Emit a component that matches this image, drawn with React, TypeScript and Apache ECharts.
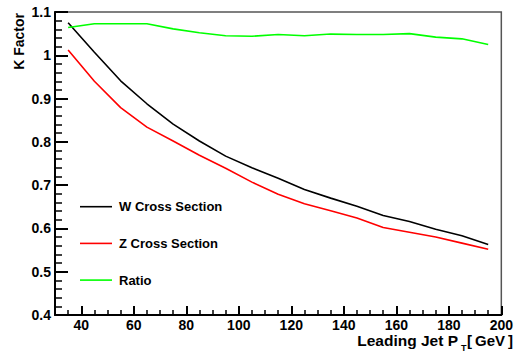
import React, { useEffect, useRef } from "react";
import * as echarts from "echarts";

const ptValues = [35, 45, 55, 65, 75, 85, 95, 105, 115, 125, 135, 145, 155, 165, 175, 185, 195];
const wCross = [1.075, 1.007, 0.941, 0.888, 0.841, 0.802, 0.767, 0.740, 0.716, 0.690, 0.670, 0.651, 0.630, 0.616, 0.598, 0.583, 0.563];
const zCross = [1.012, 0.940, 0.879, 0.834, 0.802, 0.769, 0.739, 0.707, 0.679, 0.657, 0.641, 0.624, 0.602, 0.591, 0.580, 0.566, 0.552];
const ratio = [1.064, 1.073, 1.073, 1.073, 1.061, 1.052, 1.045, 1.044, 1.048, 1.045, 1.049, 1.048, 1.048, 1.050, 1.042, 1.038, 1.025];
const xMajorTicks = [40, 60, 80, 100, 120, 140, 160, 180, 200];
const seriesNames = ["W Cross Section", "Z Cross Section", "Ratio"];
const seriesColors = ["#000000", "#ff0000", "#00ff00"];

const FONT = "Liberation Sans";

export default function App() {
  const ref = useRef<HTMLDivElement>(null);
  useEffect(() => {
    if (!ref.current) return;
    const chart = echarts.init(ref.current, null, { renderer: "svg" });
    const datasets = [wCross, zCross, ratio];
    const txt = (text: string, x: number, y: number, size: number, align: string, lh: number) => ({
      type: "text",
      x,
      y,
      style: {
        text,
        fontFamily: FONT,
        fontWeight: "bold",
        fontSize: size,
        lineHeight: lh,
        fill: "#000",
        align,
        verticalAlign: "middle",
      },
    });
    chart.setOption({
      animation: false,
      backgroundColor: "#ffffff",
      grid: {
        left: 55,
        right: 13,
        top: 12,
        bottom: 37,
        show: true,
        borderColor: "#555555",
        borderWidth: 1.5,
        backgroundColor: "transparent",
      },
      legend: {
        orient: "vertical",
        left: 80,
        top: 199.7,
        padding: 0,
        icon: "rect",
        itemWidth: 32,
        itemHeight: 1.6,
        itemGap: 22.7,
        data: seriesNames,
        textStyle: { fontFamily: FONT, fontWeight: "bold", fontSize: 13, lineHeight: 14, color: "#000", padding: [0, 0, 0, 2] },
      },
      xAxis: [
        {
          type: "value",
          min: 30,
          max: 200,
          axisLine: { show: true, onZero: false, lineStyle: { color: "#000", width: 2 } },
          axisTick: { show: true, inside: true, length: 9, customValues: xMajorTicks, lineStyle: { color: "#000", width: 2 } },
          axisLabel: {
            customValues: xMajorTicks,
            fontFamily: FONT,
            fontWeight: "bold",
            fontSize: 14,
            lineHeight: 11,
            color: "#000",
            margin: 4.5,
            showMaxLabel: true,
            showMinLabel: true,
          },
          splitLine: { show: false },
        },
        {
          type: "value",
          min: 30,
          max: 200,
          interval: 5,
          position: "bottom",
          axisLine: { show: false },
          axisTick: { show: true, inside: true, length: 5, lineStyle: { color: "#000", width: 1.5 } },
          axisLabel: { show: false },
          splitLine: { show: false },
        },
      ],
      yAxis: {
        type: "value",
        min: 0.4,
        max: 1.1,
        interval: 0.1,
        axisLine: { show: true, onZero: false, lineStyle: { color: "#000", width: 2 } },
        axisTick: { show: true, inside: true, length: 13, lineStyle: { color: "#000", width: 2 } },
        minorTick: { show: true, splitNumber: 5, length: 7, lineStyle: { color: "#000", width: 1.5 } },
        axisLabel: {
          fontFamily: FONT,
          fontWeight: "bold",
          fontSize: 14,
          color: "#000",
          margin: 4,
          formatter: (v: number) => String(Math.round(v * 10) / 10),
        },
        splitLine: { show: false },
      },
      series: datasets.map((d, i) => ({
        name: seriesNames[i],
        type: "line",
        xAxisIndex: 0,
        symbol: "none",
        data: ptValues.map((x, j) => [x, d[j]]),
        lineStyle: { color: seriesColors[i], width: 1.6 },
        itemStyle: { color: seriesColors[i] },
      })),
      graphic: [
        {
          type: "text",
          x: 19,
          y: 13,
          rotation: Math.PI / 2,
          style: {
            text: "K Factor",
            fontFamily: FONT,
            fontWeight: "bold",
            fontSize: 14,
            fill: "#000",
            align: "right",
            verticalAlign: "middle",
          },
        },
        txt("Leading Jet P", 458, 340.5, 15.5, "right", 11),
        txt("T", 461, 347.5, 9, "left", 8),
        txt("[\u2009GeV\u2009]", 513, 340.5, 15, "right", 11),
      ],
    });
    return () => chart.dispose();
  }, []);
  return <div ref={ref} style={{ width: 516, height: 352, position: "fixed", left: 0, top: 0 }} />;
}
